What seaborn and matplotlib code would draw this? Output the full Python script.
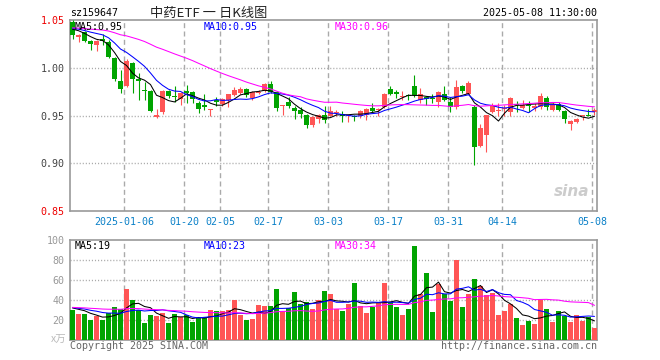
import numpy as np
import pandas as pd
import matplotlib
matplotlib.use("Agg")
import matplotlib.pyplot as plt
import seaborn as sns

code = "sz159647"
title = "中药ETF 一 日K线图"
stamp = "2025-05-08 11:30:00"

tick_labels = ["2025-01-06", "01-20", "02-05", "02-17", "03-03",
               "03-17", "03-31", "04-14", "05-08"]
tick_index = [9, 19, 25, 33, 43, 53, 63, 72, 87]

price_ticks = [0.85, 0.90, 0.95, 1.00, 1.05]
vol_ticks = [20, 40, 60, 80, 100]

# level of the averages at the left edge (days before the window)
warmup_close = 1.042
warmup_volume = 33

opens = [1.048, 1.032, 1.037, 1.028, 1.024, 1.030, 1.027, 1.010, 0.986, 0.981,
         1.005, 0.988, 0.977, 0.976, 0.948, 0.954, 0.976, 0.970, 0.967, 0.976,
         0.975, 0.963, 0.961, 0.956, 0.966, 0.962, 0.966, 0.971, 0.974, 0.978,
         0.968, 0.974, 0.976, 0.983, 0.975, 0.960, 0.964, 0.958, 0.956, 0.951,
         0.940, 0.946, 0.950, 0.950, 0.953, 0.952, 0.950, 0.950, 0.949, 0.951,
         0.958, 0.956, 0.959, 0.978, 0.975, 0.969, 0.971, 0.981, 0.966, 0.969,
         0.968, 0.964, 0.973, 0.964, 0.959, 0.981, 0.973, 0.959, 0.918, 0.930,
         0.954, 0.955, 0.957, 0.954, 0.962, 0.958, 0.961, 0.958, 0.959, 0.968,
         0.956, 0.962, 0.955, 0.941, 0.943, 0.949, 0.951, 0.954]
highs = [1.050, 1.035, 1.039, 1.029, 1.029, 1.035, 1.029, 1.011, 0.998, 1.009,
         1.006, 0.994, 0.985, 0.977, 0.957, 0.977, 0.977, 0.981, 0.975, 0.982,
         0.976, 0.965, 0.972, 0.957, 0.969, 0.968, 0.973, 0.980, 0.980, 0.979,
         0.976, 0.977, 0.984, 0.986, 0.976, 0.961, 0.969, 0.960, 0.959, 0.952,
         0.949, 0.952, 0.960, 0.960, 0.956, 0.955, 0.951, 0.951, 0.956, 0.958,
         0.963, 0.958, 0.974, 0.981, 0.977, 0.976, 0.973, 0.992, 0.979, 0.970,
         0.972, 0.976, 0.981, 0.969, 0.987, 0.982, 0.986, 0.961, 0.941, 0.951,
         0.963, 0.963, 0.961, 0.969, 0.965, 0.966, 0.965, 0.963, 0.974, 0.970,
         0.964, 0.964, 0.956, 0.945, 0.947, 0.950, 0.957, 0.958]
lows = [1.030, 1.027, 1.027, 1.019, 1.018, 1.024, 1.010, 0.986, 0.974, 0.980,
        0.974, 0.966, 0.966, 0.954, 0.947, 0.952, 0.968, 0.964, 0.961, 0.963,
        0.963, 0.953, 0.956, 0.949, 0.960, 0.960, 0.959, 0.970, 0.972, 0.969,
        0.966, 0.972, 0.975, 0.974, 0.955, 0.951, 0.958, 0.946, 0.947, 0.937,
        0.938, 0.942, 0.942, 0.949, 0.949, 0.943, 0.943, 0.944, 0.947, 0.945,
        0.954, 0.949, 0.958, 0.971, 0.968, 0.966, 0.966, 0.969, 0.963, 0.961,
        0.963, 0.959, 0.965, 0.954, 0.957, 0.974, 0.972, 0.898, 0.917, 0.912,
        0.953, 0.949, 0.949, 0.949, 0.954, 0.957, 0.954, 0.955, 0.957, 0.956,
        0.955, 0.955, 0.942, 0.935, 0.942, 0.945, 0.949, 0.951]
closes = [1.034, 1.034, 1.028, 1.025, 1.028, 1.028, 1.011, 0.988, 0.978, 1.007,
          0.988, 0.986, 0.976, 0.955, 0.951, 0.976, 0.970, 0.969, 0.974, 0.974,
          0.967, 0.957, 0.959, 0.957, 0.964, 0.967, 0.972, 0.977, 0.978, 0.971,
          0.975, 0.975, 0.983, 0.975, 0.958, 0.961, 0.960, 0.955, 0.952, 0.940,
          0.948, 0.951, 0.945, 0.955, 0.954, 0.949, 0.951, 0.948, 0.955, 0.957,
          0.955, 0.957, 0.972, 0.972, 0.972, 0.970, 0.970, 0.971, 0.972, 0.967,
          0.967, 0.975, 0.966, 0.959, 0.980, 0.976, 0.984, 0.917, 0.937, 0.951,
          0.960, 0.956, 0.958, 0.968, 0.961, 0.961, 0.960, 0.960, 0.970, 0.959,
          0.961, 0.956, 0.946, 0.944, 0.946, 0.950, 0.950, 0.956]
volumes = [30, 26, 26, 20, 24, 20, 27, 33, 31, 51,
           40, 30, 17, 25, 24, 27, 17, 26, 23, 25,
           18, 22, 23, 30, 29, 29, 30, 40, 25, 20,
           21, 35, 34, 34, 51, 29, 32, 48, 36, 38,
           31, 40, 49, 46, 31, 29, 36, 57, 34, 27,
           33, 37, 57, 38, 33, 25, 31, 94, 46, 67,
           28, 56, 46, 39, 80, 33, 46, 61, 54, 45,
           47, 25, 29, 36, 22, 15, 19, 16, 40, 31,
           18, 29, 24, 18, 25, 19, 23, 12]

RED = "#ff5555"
GREEN = "#00a400"
GRID = "#aaaaaa"
FRAME = "#999999"
MA_COLORS = {5: "black", 10: "#0000ff", 30: "#ff00ff"}

df = pd.DataFrame({"o": opens, "h": highs, "l": lows, "c": closes, "v": volumes})
df["i"] = np.arange(len(df))
df["up"] = df["c"] >= df["o"]
colors = np.where(df["up"], RED, GREEN)

pad = 29
c_ext = pd.Series([warmup_close] * pad + closes)
v_ext = pd.Series([warmup_volume] * pad + volumes)
for n in (5, 10, 30):
    df[f"ma{n}"] = c_ext.rolling(n).mean().iloc[pad:].to_numpy()
    df[f"vma{n}"] = v_ext.rolling(n).mean().iloc[pad:].to_numpy()

sns.set_theme(style="white")
plt.rcParams["font.family"] = ["DejaVu Sans Mono", "Noto Sans CJK SC"]

W, H = 660, 360
fig = plt.figure(figsize=(W / 100, H / 100), dpi=100)
ax1 = fig.add_axes([70 / W, 1 - 211 / H, 527 / W, 191 / H])
ax2 = fig.add_axes([70 / W, 1 - 340.3 / H, 527 / W, 100 / H])

xlo, xhi = -2.5 / 6, (597 - 72.5) / 6
grid_x = [i - 2.5 / 6 for i in tick_index]

# candles
ax1.vlines(df["i"], df["l"], df["h"], colors=colors, lw=0.8, zorder=3)
body = np.maximum((df["c"] - df["o"]).abs(), 0.0009)
ax1.bar(df["i"], body, bottom=np.minimum(df["o"], df["c"]), width=0.83,
        color=colors, lw=0, zorder=4)
for n in (5, 10, 30):
    sns.lineplot(x=df["i"], y=df[f"ma{n}"], ax=ax1, color=MA_COLORS[n], lw=0.75, zorder=5)

# volume
ax2.bar(df["i"], df["v"], width=0.83, color=colors, lw=0, zorder=3)
for n in (5, 10, 30):
    sns.lineplot(x=df["i"], y=df[f"vma{n}"], ax=ax2, color=MA_COLORS[n], lw=0.75, zorder=5)

for ax in (ax1, ax2):
    ax.set_xlim(xlo, xhi)
    ax.set_xlabel("")
    ax.set_ylabel("")
    for s in ax.spines.values():
        s.set_color(FRAME)
        s.set_linewidth(1.2)
    for gx in grid_x:
        ax.axvline(gx, color=GRID, lw=1, ls=(0, (3.6, 2.4)), zorder=1)
    ax.tick_params(length=0)

ax1.set_ylim(0.85, 1.05)
for gy in price_ticks[1:-1]:
    ax1.axhline(gy, color=GRID, lw=1, ls=(0, (0.8, 1.4)), zorder=1)
ax1.set_yticks(price_ticks)
ax1.set_yticklabels([f"{p:.2f}" for p in price_ticks], fontsize=7.2)
for lab, p in zip(ax1.get_yticklabels(), price_ticks):
    lab.set_color("#ee0000" if p in (0.85, 1.05) else "#444444")
ax1.tick_params(axis="y", pad=4)
ax1.set_xticks(grid_x)
ax1.set_xticklabels(tick_labels, fontsize=7.2, color="#0a80c8")
ax1.tick_params(axis="x", pad=4)

ax2.set_ylim(0, 100)
for gy in vol_ticks[:-1]:
    ax2.axhline(gy, color=GRID, lw=1, ls=(0, (0.8, 1.4)), zorder=1)
ax2.set_yticks(vol_ticks)
ax2.set_yticklabels([str(v) for v in vol_ticks], fontsize=7.2, color="#999999")
ax2.tick_params(axis="y", pad=4)
ax2.set_xticks([])

# MA legends
last = df.iloc[-1]
fs = 7.2
ax1.text(5 / 527, 1 - 7 / 191, f"MA5:{last['ma5']:.2f}", transform=ax1.transAxes,
         fontsize=fs, color="black", va="center", zorder=6)
ax1.text(134 / 527, 1 - 7 / 191, f"MA10:{last['ma10']:.2f}", transform=ax1.transAxes,
         fontsize=fs, color="#0000ff", va="center", zorder=6)
ax1.text(265 / 527, 1 - 7 / 191, f"MA30:{last['ma30']:.2f}", transform=ax1.transAxes,
         fontsize=fs, color="#ff00ff", va="center", zorder=6)
ax2.text(5 / 527, 1 - 6 / 100, f"MA5:{int(last['vma5'])}", transform=ax2.transAxes,
         fontsize=fs, color="black", va="center", zorder=6)
ax2.text(134 / 527, 1 - 6 / 100, f"MA10:{int(last['vma10'])}", transform=ax2.transAxes,
         fontsize=fs, color="#0000ff", va="center", zorder=6)
ax2.text(265 / 527, 1 - 6 / 100, f"MA30:{int(last['vma30'])}", transform=ax2.transAxes,
         fontsize=fs, color="#ff00ff", va="center", zorder=6)

# watermark
ax1.text(0.985, 0.1, "sina", transform=ax1.transAxes, fontsize=11, color="#cccccc",
         style="italic", weight="bold", ha="right", va="center", family="DejaVu Sans", zorder=2)

# header / footer
fig.text(70 / W, 1 - 13 / H, code, fontsize=7.2, color="black", va="center")
fig.text(209 / W, 1 - 13 / H, title, fontsize=9.5, color="#222222", ha="center", va="center",
         family=["Noto Sans CJK SC", "DejaVu Sans"])
fig.text(597 / W, 1 - 13 / H, stamp, fontsize=7.2, color="black", ha="right", va="center")
fig.text(66 / W, 1 - 340 / H, "x万", fontsize=7.5, color="#bbbbbb", ha="right", va="center",
         family=["Noto Sans CJK SC", "DejaVu Sans"])
fig.text(70 / W, 1 - 346 / H, "Copyright 2025 SINA.COM", fontsize=7.2, color="#666666", va="center")
fig.text(597 / W, 1 - 346 / H, "http://finance.sina.com.cn", fontsize=7.2, color="#666666",
         ha="right", va="center")

fig.savefig("out.png", dpi=100)
